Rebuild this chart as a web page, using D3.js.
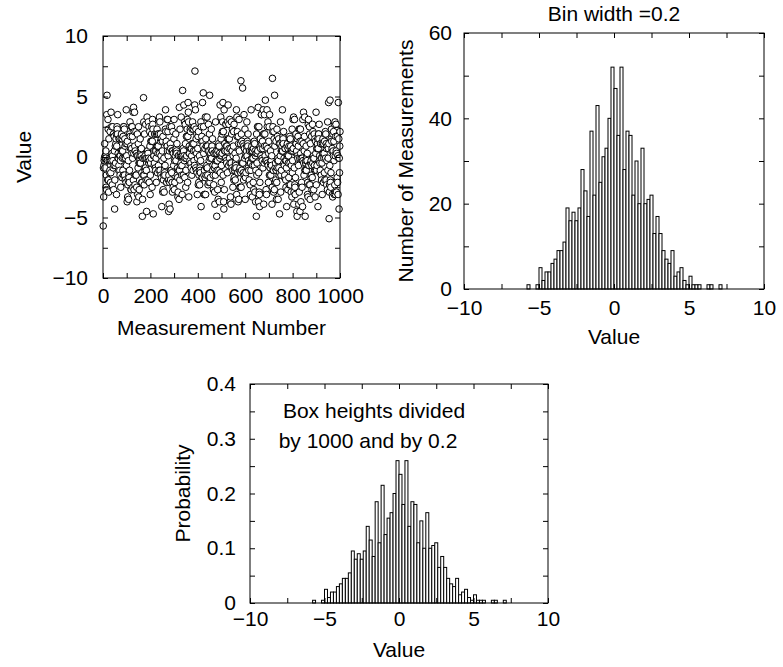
<!DOCTYPE html>
<html>
<head>
<meta charset="utf-8">
<script src="https://cdn.jsdelivr.net/npm/d3@7"></script>
<style>
  body { margin: 0; background: #fff; }
  svg text { font-family: "Liberation Sans", Arial, Helvetica, sans-serif; font-size: 21px; fill: #000; }
</style>
</head>
<body>
<svg id="chart" width="783" height="667"></svg>
<script>
// histogram: lower bin edges and counts (bin width 0.2)
const binWidth = 0.2;
const binLows = [-5.8, -5.6, -5.4, -5.2, -5.0, -4.8, -4.6, -4.4, -4.2, -4.0,
  -3.8, -3.6, -3.4, -3.2, -3.0, -2.8, -2.6, -2.4, -2.2, -2.0,
  -1.8, -1.6, -1.4, -1.2, -1.0, -0.8, -0.6, -0.4, -0.2, 0.0,
  0.2, 0.4, 0.6, 0.8, 1.0, 1.2, 1.4, 1.6, 1.8, 2.0,
  2.2, 2.4, 2.6, 2.8, 3.0, 3.2, 3.4, 3.6, 3.8, 4.0,
  4.2, 4.4, 4.6, 4.8, 5.0, 5.2, 5.4, 5.6, 5.8, 6.0,
  6.2, 6.4, 6.6, 6.8, 7.0];
const counts = [1, 0, 0, 1, 5, 2, 4, 4, 6, 7,
  9, 9, 11, 19, 16, 18, 16, 19, 28, 23,
  17, 37, 22, 43, 25, 31, 33, 40, 52, 47,
  36, 52, 28, 37, 36, 22, 30, 20, 33, 20,
  21, 22, 13, 17, 13, 9, 7, 6, 9, 3,
  4, 5, 2, 1, 3, 1, 1, 1, 0, 0,
  1, 1, 0, 0, 1];

// axis ticks
const valueTicks = [-10, -5, 0, 5, 10];
const valueMinor = [-7.5, -2.5, 2.5, 7.5];
const measTicks = [0, 200, 400, 600, 800, 1000];
const measMinor = [100, 300, 500, 700, 900];
const countTicks = [0, 20, 40, 60];
const countMinor = [10, 30, 50];
const probTicks = [0, 0.1, 0.2, 0.3, 0.4];
const probMinor = [0.05, 0.15, 0.25, 0.35];

const nTotal = d3.sum(counts);

// measurements rebuilt from the histogram, one per count, at the bin centre
const samples = [];
binLows.forEach((lo, i) => {
  for (let k = 0; k < counts[i]; k++) samples.push(lo + binWidth / 2);
});
// the order of the measurements can't be read off the picture,
// so walk through the sorted values with a full-period congruential step
const measurements = [];
let j = 0;
for (let m = 0; m < samples.length; m++) {
  measurements.push({ n: m + 1, v: samples[j % samples.length] });
  j = (741 * j + 337) % 1000;
}

const svg = d3.select('#chart');

function frame(g, w, h) {
  g.append('rect')
    .attr('width', w).attr('height', h)
    .attr('fill', 'none').attr('stroke', '#000').attr('stroke-width', 1);
}

function axes(g, x, y, w, h, xt, xm, yt, ym, yfmt, xpad, ypad) {
  const tk = 5;
  g.append('g').attr('transform', `translate(0,${h})`)
    .call(d3.axisBottom(x).tickValues(xt).tickSize(-tk).tickPadding(xpad).tickFormat(d3.format('')))
    .call(a => a.select('.domain').remove());
  g.append('g').attr('transform', `translate(0,${h})`)
    .call(d3.axisBottom(x).tickValues(xm).tickSize(-tk).tickFormat(''))
    .call(a => a.select('.domain').remove());
  g.append('g')
    .call(d3.axisTop(x).tickValues(xt.concat(xm)).tickSize(-tk).tickFormat(''))
    .call(a => a.select('.domain').remove());
  g.append('g')
    .call(d3.axisLeft(y).tickValues(yt).tickSize(-tk).tickPadding(ypad).tickFormat(yfmt))
    .call(a => a.select('.domain').remove());
  g.append('g')
    .call(d3.axisLeft(y).tickValues(ym).tickSize(-tk).tickFormat(''))
    .call(a => a.select('.domain').remove());
  g.append('g').attr('transform', `translate(${w},0)`)
    .call(d3.axisRight(y).tickValues(yt.concat(ym)).tickSize(-tk).tickFormat(''))
    .call(a => a.select('.domain').remove());
  g.selectAll('.tick line').attr('stroke', '#000');
  g.selectAll('.tick text').attr('font-size', 21)
    .attr('font-family', '"Liberation Sans", Arial, sans-serif').attr('fill', '#000');
}

// ---- panel 1: scatter of measurements
{
  const left = 103, top = 36, w = 237, h = 242;
  const g = svg.append('g').attr('transform', `translate(${left},${top})`);
  const x = d3.scaleLinear().domain([0, 1000]).range([0, w]);
  const y = d3.scaleLinear().domain([-10, 10]).range([h, 0]);

  g.append('g').selectAll('circle')
    .data(measurements)
    .join('circle')
    .attr('cx', d => x(d.n))
    .attr('cy', d => y(d.v))
    .attr('r', 3.3)
    .attr('fill', '#fff')
    .attr('stroke', '#000')
    .attr('stroke-width', 1);

  frame(g, w, h);
  axes(g, x, y, w, h, measTicks, measMinor, valueTicks, valueMinor, d3.format(''), 10, 15);

  g.append('text').attr('x', w / 2).attr('y', 335 - top)
    .attr('text-anchor', 'middle').text('Measurement Number');
  g.append('text').attr('transform', `translate(${31 - left},${h / 2}) rotate(-90)`)
    .attr('text-anchor', 'middle').text('Value');
}

// ---- panel 2: histogram of counts
{
  const left = 464, top = 33, w = 300, h = 256;
  const g = svg.append('g').attr('transform', `translate(${left},${top})`);
  const x = d3.scaleLinear().domain([-10, 10]).range([0, w]);
  const y = d3.scaleLinear().domain([0, 60]).range([h, 0]);

  g.append('g').selectAll('rect')
    .data(binLows.map((lo, i) => ({ lo, c: counts[i] })).filter(d => d.c > 0))
    .join('rect')
    .attr('x', d => x(d.lo))
    .attr('y', d => y(d.c))
    .attr('width', d => x(d.lo + binWidth) - x(d.lo))
    .attr('height', d => y(0) - y(d.c))
    .attr('fill', '#fff').attr('stroke', '#000').attr('stroke-width', 1);

  frame(g, w, h);
  axes(g, x, y, w, h, valueTicks, valueMinor, countTicks, countMinor, d3.format(''), 11, 12);

  g.append('text').attr('x', w / 2).attr('y', 21 - top)
    .attr('text-anchor', 'middle').text('Bin width =0.2');
  g.append('text').attr('x', w / 2).attr('y', 344 - top)
    .attr('text-anchor', 'middle').text('Value');
  g.append('text').attr('transform', `translate(${413 - left},${h / 2}) rotate(-90)`)
    .attr('text-anchor', 'middle').text('Number of Measurements');
}

// ---- panel 3: probability density
{
  const left = 250, top = 384, w = 298, h = 219;
  const g = svg.append('g').attr('transform', `translate(${left},${top})`);
  const x = d3.scaleLinear().domain([-10, 10]).range([0, w]);
  const y = d3.scaleLinear().domain([0, 0.4]).range([h, 0]);

  g.append('g').selectAll('rect')
    .data(binLows.map((lo, i) => ({ lo, p: counts[i] / nTotal / binWidth })).filter(d => d.p > 0))
    .join('rect')
    .attr('x', d => x(d.lo))
    .attr('y', d => y(d.p))
    .attr('width', d => x(d.lo + binWidth) - x(d.lo))
    .attr('height', d => y(0) - y(d.p))
    .attr('fill', '#fff').attr('stroke', '#000').attr('stroke-width', 1);

  frame(g, w, h);
  axes(g, x, y, w, h, valueTicks, valueMinor, probTicks, probMinor, d3.format(''), 8, 14);

  g.append('text').attr('x', 374 - left).attr('y', 418 - top)
    .attr('text-anchor', 'middle').text('Box heights divided');
  g.append('text').attr('x', 368 - left).attr('y', 448 - top)
    .attr('text-anchor', 'middle').text('by 1000 and by 0.2');
  g.append('text').attr('x', w / 2).attr('y', 657 - top)
    .attr('text-anchor', 'middle').text('Value');
  g.append('text').attr('transform', `translate(${190 - left},${h / 2}) rotate(-90)`)
    .attr('text-anchor', 'middle').text('Probability');
}
</script>
</body>
</html>
